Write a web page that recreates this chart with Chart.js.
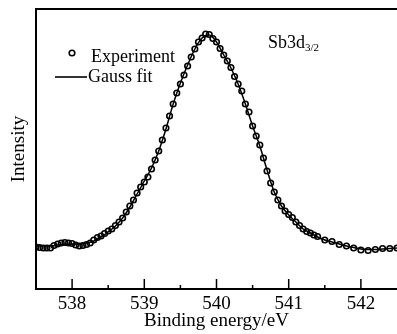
<!DOCTYPE html>
<html>
<head>
<meta charset="utf-8">
<script src="https://cdn.jsdelivr.net/npm/chart.js@4"></script>
<style>
  body { margin: 0; background: #fff; }
</style>
</head>
<body>
<canvas id="xpsChart" width="397" height="334"></canvas>
<script>
// ==========================
// Données (intensité en unités arbitraires)
// ==========================
const expEnergy = [
  537.50, 537.55, 537.60, 537.65, 537.70, 537.75, 537.80, 537.85, 537.90, 537.95,
  538.00, 538.05, 538.10, 538.15, 538.20, 538.25, 538.30, 538.35, 538.40, 538.45,
  538.50, 538.55, 538.60, 538.65, 538.70, 538.75, 538.80, 538.85, 538.90, 538.95,
  539.00, 539.05, 539.10, 539.15, 539.20, 539.25, 539.30, 539.35, 539.40, 539.45,
  539.50, 539.55, 539.60, 539.65, 539.70, 539.75, 539.80, 539.85, 539.90, 539.95,
  540.00, 540.05, 540.10, 540.15, 540.20, 540.25, 540.30, 540.35, 540.40, 540.45,
  540.50, 540.55, 540.60, 540.65, 540.70, 540.75, 540.80, 540.85, 540.90, 540.95,
  541.00, 541.05, 541.10, 541.15, 541.20, 541.25, 541.30, 541.35, 541.40, 541.50,
  541.60, 541.70, 541.80, 541.90, 542.00, 542.10, 542.20, 542.30, 542.40, 542.50
];
const expIntensity = [
  42, 41.5, 41, 41, 41, 43.5, 45, 46, 46.5, 46,
  45.5, 44, 43, 43.5, 44.5, 46, 49, 51.5, 53, 55.5,
  58, 60, 63.5, 67, 71, 77, 83, 89, 96, 102,
  107, 112, 120, 129, 138, 149, 161, 173, 185, 196,
  205, 214, 223, 232, 240, 247, 251, 255, 254.5, 250.5,
  247, 240.5, 234, 228, 221.5, 212.5, 205, 198, 185, 177,
  163, 153, 144, 131, 118, 106, 97, 89, 83, 78,
  74.5, 71.5, 67, 63.5, 60, 57.5, 56, 54, 52.5, 49,
  47.5, 44.5, 43, 41, 39, 38.5, 39.5, 40.5, 40.5, 41
];

const fitEnergy = [
  537.5, 537.6, 537.7, 537.8, 537.9, 538.0, 538.1, 538.2, 538.3, 538.4,
  538.5, 538.6, 538.7, 538.8, 538.9, 539.0, 539.1, 539.2, 539.3, 539.4,
  539.5, 539.6, 539.7, 539.8, 539.9, 540.0, 540.1, 540.2, 540.3, 540.4,
  540.5, 540.6, 540.7, 540.8, 540.9, 541.0, 541.1, 541.2, 541.3, 541.4,
  541.5, 541.6, 541.7, 541.8, 541.9, 542.0, 542.1, 542.2, 542.3, 542.4, 542.5
];
const fitIntensity = [
  43, 43, 43, 44, 44.5, 45, 45, 46, 48, 52,
  57, 63, 71, 82, 95, 108, 121, 138, 160, 185,
  206, 224, 240, 251, 254, 247, 234, 221, 205, 185,
  163, 143, 119, 97, 83, 74, 67, 60, 56, 52,
  49, 47, 45, 43, 41.5, 40, 39.5, 39.5, 40, 40.5, 41
];

const xTicks = [538, 539, 540, 541, 542];
const xMinorTicks = [537.5, 538.5, 539.5, 540.5, 541.5];

const serif = "'Liberation Serif', 'Times New Roman', serif";

// ==========================
// Cadre, petites graduations, légende et annotation
// ==========================
const decorPlugin = {
  id: 'decor',
  afterDraw(chart) {
    const { ctx, chartArea } = chart;
    const xs = chart.scales.x;
    ctx.save();
    ctx.strokeStyle = '#000';

    // trait du haut
    ctx.lineWidth = 2;
    ctx.beginPath();
    ctx.moveTo(chartArea.left - 1, chartArea.top);
    ctx.lineTo(chartArea.right, chartArea.top);
    ctx.stroke();

    // graduations vers l'intérieur
    ctx.lineWidth = 1.5;
    xTicks.forEach(v => {
      const px = xs.getPixelForValue(v);
      ctx.beginPath();
      ctx.moveTo(px, chartArea.bottom);
      ctx.lineTo(px, chartArea.bottom - 10);
      ctx.stroke();
    });
    xMinorTicks.forEach(v => {
      const px = xs.getPixelForValue(v);
      ctx.beginPath();
      ctx.moveTo(px, chartArea.bottom);
      ctx.lineTo(px, chartArea.bottom - 4);
      ctx.stroke();
    });

    // légende
    ctx.fillStyle = '#000';
    ctx.font = '18px ' + serif;
    ctx.textBaseline = 'alphabetic';
    ctx.lineWidth = 1.6;
    ctx.beginPath();
    ctx.arc(72, 53, 2.8, 0, Math.PI * 2);
    ctx.stroke();
    ctx.fillText('Experiment', 91, 62);

    ctx.lineWidth = 1.6;
    ctx.beginPath();
    ctx.moveTo(55, 77);
    ctx.lineTo(87, 77);
    ctx.stroke();
    ctx.fillText('Gauss fit', 88, 82);

    // Sb3d3/2
    ctx.fillText('Sb3d', 268, 48);
    const w = ctx.measureText('Sb3d').width;
    ctx.font = '11px ' + serif;
    ctx.fillText('3/2', 268 + w, 51);
    ctx.restore();
  }
};

new Chart(document.getElementById('xpsChart'), {
  type: 'line',
  data: {
    datasets: [
      {
        label: 'Experiment',
        data: expEnergy.map((e, i) => ({ x: e, y: expIntensity[i] })),
        showLine: false,
        pointStyle: 'circle',
        pointRadius: 2.8,
        pointBorderWidth: 1.6,
        pointBorderColor: '#000',
        pointBackgroundColor: 'rgba(255,255,255,0)',
        order: 2
      },
      {
        label: 'Gauss fit',
        data: fitEnergy.map((e, i) => ({ x: e, y: fitIntensity[i] })),
        borderColor: '#000',
        borderWidth: 1.5,
        pointRadius: 0,
        cubicInterpolationMode: 'monotone',
        order: 1
      }
    ]
  },
  options: {
    responsive: false,
    animation: false,
    layout: { autoPadding: false, padding: { top: 9, right: 0, left: 0, bottom: 0 } },
    plugins: {
      legend: { display: false },
      tooltip: { enabled: false }
    },
    scales: {
      x: {
        type: 'linear',
        min: 537.5,
        max: 542.5,
        afterBuildTicks: s => { s.ticks = xTicks.map(v => ({ value: v })); },
        afterFit: s => { s.height = 45; s.paddingLeft = 0; s.paddingRight = 0; },
        grid: { display: false, drawTicks: false },
        border: { display: true, color: '#000', width: 2 },
        ticks: {
          color: '#000',
          padding: 4,
          maxRotation: 0,
          font: { family: serif, size: 19 }
        },
        title: {
          display: true,
          text: 'Binding energy/eV',
          color: '#000',
          padding: { top: 0, bottom: 2 },
          font: { family: serif, size: 19 }
        }
      },
      y: {
        min: 0,
        max: 280,
        afterFit: s => { s.width = 36; },
        grid: { display: false, drawTicks: false },
        border: { display: true, color: '#000', width: 2 },
        ticks: { display: false },
        title: {
          display: true,
          text: 'Intensity',
          color: '#000',
          padding: { top: 8, bottom: 0 },
          font: { family: serif, size: 19 }
        }
      }
    }
  },
  plugins: [decorPlugin]
});
</script>
</body>
</html>
